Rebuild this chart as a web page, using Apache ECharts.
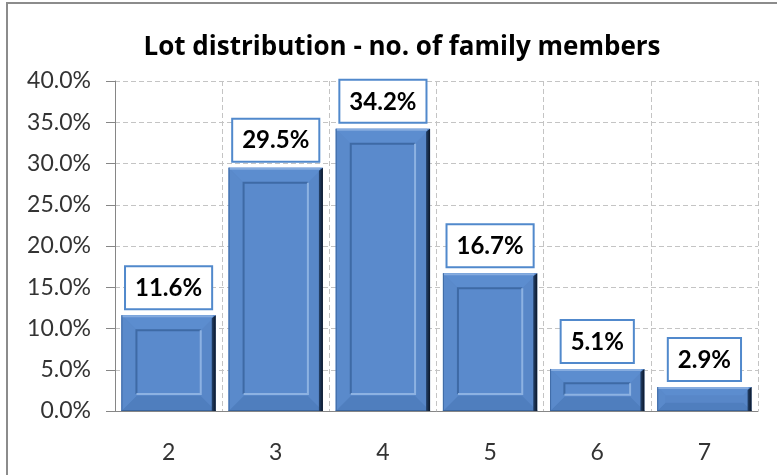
<!DOCTYPE html>
<html>
<head>
<meta charset="utf-8">
<script src="https://cdn.jsdelivr.net/npm/echarts@6/dist/echarts.min.js"></script>
<style>
  html, body { margin: 0; padding: 0; background: #fff; }
  #chart { width: 777px; height: 475px; }
</style>
</head>
<body>
<div id="chart"></div>
<script>
// Share of lots by number of family members
const categories = ['2', '3', '4', '5', '6', '7'];
const shares = [11.6, 29.5, 34.2, 16.7, 5.1, 2.9];
const yTicks = { min: 0, max: 40, step: 5 };

const FONT = 'Lato';
const TITLE_FONT = 'Open Sans';

function renderBevelBar(params, api) {
  const idx = api.value(0);
  const v = api.value(1);
  const top = api.coord([idx, v]);
  const base = api.coord([idx, 0]);
  const band = api.size([1, 0])[0];
  const w = band * 0.88;
  const x0 = top[0] - w / 2, x1 = x0 + w;
  const y0 = top[1], y1 = base[1];
  const h = y1 - y0;
  const children = [];

  // body
  children.push({ type: 'rect', shape: { x: x0, y: y0, width: w, height: h },
    style: { fill: '#5887C8' } });
  // bevel: top face lighter, bottom face slightly darker
  const b = Math.min(15, h * 0.34);
  children.push({ type: 'polygon', shape: { points: [[x0, y0], [x1, y0], [x1 - b, y0 + b], [x0 + b, y0 + b]] },
    style: { fill: '#5C8DCF' } });
  children.push({ type: 'polygon', shape: { points: [[x0, y1], [x1, y1], [x1 - b, y1 - b], [x0 + b, y1 - b]] },
    style: { fill: '#4F7EBE' } });
  children.push({ type: 'polygon', shape: { points: [[x0, y0], [x0 + b, y0 + b], [x0 + b, y1 - b], [x0, y1]] },
    style: { fill: '#5A8ACB' } });
  // inner panel
  const ih = h - 2 * b - 2;
  if (ih > 8) {
    const ix0 = x0 + b, iy0 = y0 + b, iw = w - 2 * b;
    children.push({ type: 'rect', shape: { x: ix0, y: iy0, width: iw, height: ih },
      style: { fill: '#5A8ACC' } });
    children.push({ type: 'polyline', shape: { points: [[ix0, iy0 + ih], [ix0, iy0], [ix0 + iw, iy0]] },
      style: { stroke: '#3E6AA5', lineWidth: 2, fill: null } });
    children.push({ type: 'polyline', shape: { points: [[ix0, iy0 + ih], [ix0 + iw, iy0 + ih], [ix0 + iw, iy0]] },
      style: { stroke: '#8DB2E2', lineWidth: 2, fill: null } });
  }
  // edges
  children.push({ type: 'line', shape: { x1: x0, y1: y0 + 1, x2: x1 - 3, y2: y0 + 1 },
    style: { stroke: '#86ACDF', lineWidth: 2 } });
  children.push({ type: 'line', shape: { x1: x0 + 0.5, y1: y0, x2: x0 + 0.5, y2: y1 },
    style: { stroke: '#3F6BA6', lineWidth: 1 } });
  children.push({ type: 'line', shape: { x1: x0, y1: y1 - 0.5, x2: x1, y2: y1 - 0.5 },
    style: { stroke: '#3A649C', lineWidth: 1 } });
  children.push({ type: 'polygon', shape: { points: [[x1 - 4, y0 + 3], [x1, y0], [x1, y1], [x1 - 4, y1]] },
    style: { fill: { type: 'linear', x: 0, y: 0, x2: 1, y2: 0,
      colorStops: [{ offset: 0, color: '#24426B' }, { offset: 1, color: '#0B1628' }] } } });

  // value box
  children.push({ type: 'text', x: top[0], y: y0 - 7,
    style: { text: shares[params.dataIndex].toFixed(1) + '%', align: 'center', verticalAlign: 'bottom',
      font: 'bold 24px ' + FONT, fill: '#000', backgroundColor: '#fff',
      borderColor: '#5189CC', borderWidth: 2, padding: [9, 9, 8, 9] } });

  return { type: 'group', children };
}

const chart = echarts.init(document.getElementById('chart'), null, { renderer: 'canvas' });
chart.setOption({
  backgroundColor: '#fff',
  animation: false,
  title: {
    text: 'Lot distribution - no. of family members',
    left: 397, top: 30, textAlign: 'center',
    textStyle: { fontFamily: TITLE_FONT, fontWeight: 'bold', fontSize: 26, color: '#000' }
  },
  graphic: [{ type: 'rect', shape: { x: 7, y: 3, width: 800, height: 520 },
    style: { fill: null, stroke: '#8C8C8C', lineWidth: 2 }, silent: true }],
  grid: { left: 115, right: 19, top: 81, bottom: 64 },
  xAxis: {
    type: 'category', data: categories,
    axisLine: { lineStyle: { color: '#868686' } },
    axisTick: { length: 6, lineStyle: { color: '#868686' } },
    axisLabel: { fontFamily: FONT, fontSize: 23, color: '#333', margin: 30 },
    splitLine: { show: true, lineStyle: { color: '#C4C4C4', type: [5, 3] } }
  },
  yAxis: {
    type: 'value', min: yTicks.min, max: yTicks.max, interval: yTicks.step,
    axisLine: { show: true, lineStyle: { color: '#868686' } },
    axisTick: { show: true, length: 9, lineStyle: { color: '#868686' } },
    axisLabel: { fontFamily: FONT, fontSize: 23, color: '#333', margin: 24,
      formatter: v => v.toFixed(1) + '%' },
    splitLine: { lineStyle: { color: '#C4C4C4', type: [5, 3] } }
  },
  series: [{
    type: 'custom',
    renderItem: renderBevelBar,
    encode: { x: 0, y: 1 },
    data: shares.map((v, i) => [i, v]),
    clip: false
  }]
});
</script>
</body>
</html>
